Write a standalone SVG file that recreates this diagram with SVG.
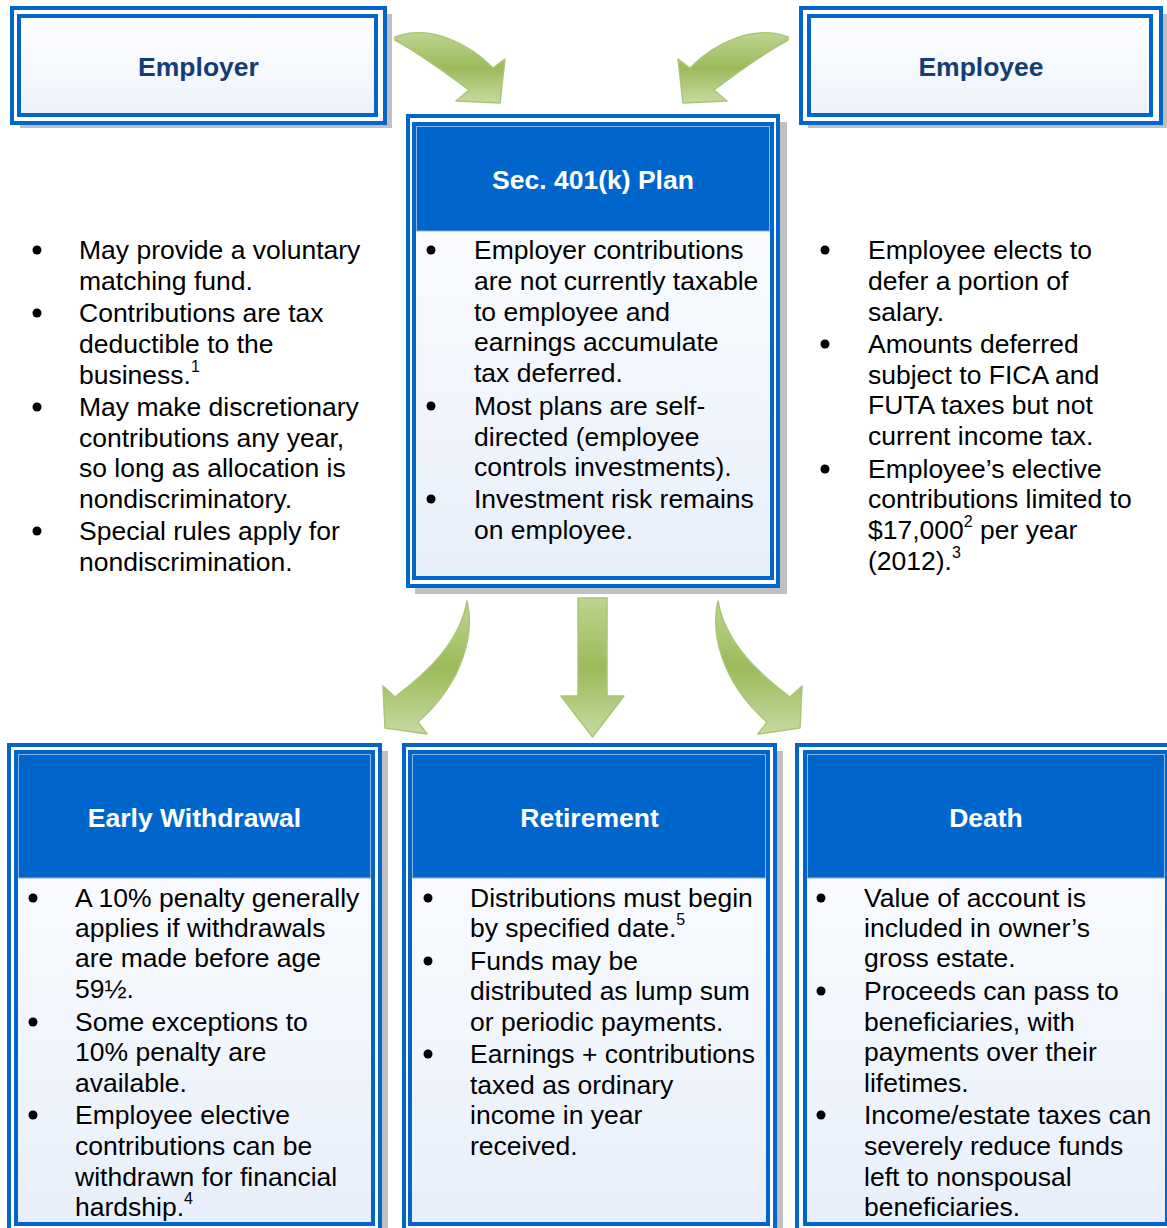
<svg xmlns="http://www.w3.org/2000/svg" width="1167" height="1228" viewBox="0 0 1167 1228">
<defs>
<linearGradient id="boxg" x1="0" y1="0" x2="0" y2="1"><stop offset="0" stop-color="#FFFFFF"/><stop offset="1" stop-color="#EDF2FB"/></linearGradient>
<linearGradient id="bodyg" x1="0" y1="0" x2="0" y2="1"><stop offset="0" stop-color="#FFFFFF"/><stop offset="1" stop-color="#E8EFFA"/></linearGradient>
<linearGradient id="ag" x1="0" y1="0" x2="0" y2="1"><stop offset="0" stop-color="#BCD492"/><stop offset="0.5" stop-color="#9BBB59"/><stop offset="1" stop-color="#C6DAA2"/></linearGradient>
<style>
.sh{fill:#BFBFBF}
.ob{fill:#FFFFFF;stroke:#0066CC;stroke-width:4}
.ib{fill:url(#boxg);stroke:#0066CC;stroke-width:4}
.ibb{fill:url(#bodyg);stroke:#0066CC;stroke-width:4}
.hdr{fill:#0066CC;stroke:#8DB4E2;stroke-width:1}
.ttl{font-family:"Liberation Sans",Arial,sans-serif;font-size:26.5px;font-weight:bold;text-anchor:middle}
.dk{fill:#123E74}
.wh{fill:#FFFFFF}
.t{font-family:"Liberation Sans",Arial,sans-serif;font-size:26.5px;fill:#000000}
.sup{font-size:16px}
.bl{fill:#000000}
.arr{fill:url(#ag);stroke:#A9C676;stroke-width:1.5;stroke-linejoin:round}
</style>
</defs>

<g id="connectors">
<path id="arrow-employer" class="arr" d="M395,37 C430,24 470,44 493,68 L505,59 L500,103 L456,101 L469,90 C453,78 422,55 395,40 Z"/>
<path id="arrow-employee" class="arr" transform="translate(1183,0) scale(-1,1)" d="M395,37 C430,24 470,44 493,68 L505,59 L500,103 L456,101 L469,90 C453,78 422,55 395,40 Z"/>
<path id="arrow-early" class="arr" d="M467,601 C474,630 466,680 418,722 L427,734 L385,728 L383,686 L395,697 C428,672 460,642 467,601 Z"/>
<path id="arrow-death" class="arr" transform="translate(1185,0) scale(-1,1)" d="M467,601 C474,630 466,680 418,722 L427,734 L385,728 L383,686 L395,697 C428,672 460,642 467,601 Z"/>
<polygon id="arrow-retirement" class="arr" points="578,598 607,598 607,696 624,696 592.5,737 561,696 578,696"/>
</g>

<g id="employer">
<rect class="sh" x="20" y="14" width="372" height="114"/>
<rect class="ob" x="12" y="8" width="373" height="115"/>
<rect class="ib" x="19" y="16" width="357" height="99"/>
<text class="ttl dk" x="198.5" y="75.5">Employer</text>
</g>

<g id="employee">
<rect class="sh" x="808" y="14" width="372" height="114"/>
<rect class="ob" x="801" y="8" width="360" height="115"/>
<rect class="ib" x="809" y="16" width="342" height="99"/>
<text class="ttl dk" x="981" y="75.5">Employee</text>
</g>

<g id="employer-notes">
<circle class="bl" cx="37" cy="250" r="4.5"/>
<circle class="bl" cx="37" cy="313" r="4.5"/>
<circle class="bl" cx="37" cy="407" r="4.5"/>
<circle class="bl" cx="37" cy="531" r="4.5"/>
<text class="t" x="79" y="258.5">May provide a voluntary</text>
<text class="t" x="79" y="289.5">matching fund.</text>
<text class="t" x="79" y="321.5">Contributions are tax</text>
<text class="t" x="79" y="352.5">deductible to the</text>
<text class="t" x="79" y="383.5">business.<tspan class="sup" dy="-12">1</tspan></text>
<text class="t" x="79" y="415.5">May make discretionary</text>
<text class="t" x="79" y="446.5">contributions any year,</text>
<text class="t" x="79" y="476.5">so long as allocation is</text>
<text class="t" x="79" y="507.5">nondiscriminatory.</text>
<text class="t" x="79" y="539.5">Special rules apply for</text>
<text class="t" x="79" y="570.5">nondiscrimination.</text>
</g>

<g id="plan">
<rect class="sh" x="415" y="122" width="372" height="472"/>
<rect class="ob" x="408" y="116" width="370" height="470"/>
<rect class="ibb" x="414" y="124" width="358" height="454"/>
<rect class="hdr" x="416.5" y="126.5" width="353" height="104.5"/>
<text class="ttl wh" x="593" y="188.5">Sec. 401(k) Plan</text>
<circle class="bl" cx="431" cy="250" r="4.5"/>
<circle class="bl" cx="431" cy="406" r="4.5"/>
<circle class="bl" cx="431" cy="499" r="4.5"/>
<text class="t" x="474" y="258.5">Employer contributions</text>
<text class="t" x="474" y="289.5">are not currently taxable</text>
<text class="t" x="474" y="320.5">to employee and</text>
<text class="t" x="474" y="350.5">earnings accumulate</text>
<text class="t" x="474" y="381.5">tax deferred.</text>
<text class="t" x="474" y="414.5">Most plans are self-</text>
<text class="t" x="474" y="445.5">directed (employee</text>
<text class="t" x="474" y="475.5">controls investments).</text>
<text class="t" x="474" y="507.5">Investment risk remains</text>
<text class="t" x="474" y="538.5">on employee.</text>
</g>

<g id="employee-notes">
<circle class="bl" cx="825" cy="250" r="4.5"/>
<circle class="bl" cx="825" cy="344" r="4.5"/>
<circle class="bl" cx="825" cy="469" r="4.5"/>
<text class="t" x="868" y="258.5">Employee elects to</text>
<text class="t" x="868" y="289.5">defer a portion of</text>
<text class="t" x="868" y="320.5">salary.</text>
<text class="t" x="868" y="352.5">Amounts deferred</text>
<text class="t" x="868" y="383.5">subject to FICA and</text>
<text class="t" x="868" y="413.5">FUTA taxes but not</text>
<text class="t" x="868" y="444.5">current income tax.</text>
<text class="t" x="868" y="477.5">Employee’s elective</text>
<text class="t" x="868" y="507.5">contributions limited to</text>
<text class="t" x="868" y="538.5">$17,000<tspan class="sup" dy="-12">2</tspan><tspan dy="12"> per year</tspan></text>
<text class="t" x="868" y="569.5">(2012).<tspan class="sup" dy="-12">3</tspan></text>
</g>

<g id="early-withdrawal">
<rect class="sh" x="16" y="751" width="372" height="500"/>
<rect class="ob" x="9" y="745" width="371" height="500"/>
<rect class="ibb" x="16" y="752" width="357" height="472"/>
<rect class="hdr" x="18.5" y="754.5" width="352" height="123.5"/>
<text class="ttl wh" x="194.5" y="826.5">Early Withdrawal</text>
<circle class="bl" cx="33" cy="898" r="4.5"/>
<circle class="bl" cx="33" cy="1022" r="4.5"/>
<circle class="bl" cx="33" cy="1115" r="4.5"/>
<text class="t" x="75" y="906.5">A 10% penalty generally</text>
<text class="t" x="75" y="936.5">applies if withdrawals</text>
<text class="t" x="75" y="966.5">are made before age</text>
<text class="t" x="75" y="997.5">59½.</text>
<text class="t" x="75" y="1030.5">Some exceptions to</text>
<text class="t" x="75" y="1060.5">10% penalty are</text>
<text class="t" x="75" y="1091.5">available.</text>
<text class="t" x="75" y="1123.5">Employee elective</text>
<text class="t" x="75" y="1154.5">contributions can be</text>
<text class="t" x="75" y="1185.5">withdrawn for financial</text>
<text class="t" x="75" y="1215.5">hardship.<tspan class="sup" dy="-12">4</tspan></text>
</g>

<g id="retirement">
<rect class="sh" x="410" y="751" width="373" height="500"/>
<rect class="ob" x="404" y="745" width="371" height="500"/>
<rect class="ibb" x="410" y="752" width="358" height="472"/>
<rect class="hdr" x="412.5" y="754.5" width="353" height="123.5"/>
<text class="ttl wh" x="589.5" y="826.5">Retirement</text>
<circle class="bl" cx="428" cy="898" r="4.5"/>
<circle class="bl" cx="428" cy="961" r="4.5"/>
<circle class="bl" cx="428" cy="1054" r="4.5"/>
<text class="t" x="470" y="906.5">Distributions must begin</text>
<text class="t" x="470" y="936.5">by specified date.<tspan class="sup" dy="-12">5</tspan></text>
<text class="t" x="470" y="969.5">Funds may be</text>
<text class="t" x="470" y="999.5">distributed as lump sum</text>
<text class="t" x="470" y="1030.5">or periodic payments.</text>
<text class="t" x="470" y="1062.5">Earnings + contributions</text>
<text class="t" x="470" y="1093.5">taxed as ordinary</text>
<text class="t" x="470" y="1123.5">income in year</text>
<text class="t" x="470" y="1154.5">received.</text>
</g>

<g id="death">
<rect class="sh" x="803" y="751" width="380" height="500"/>
<rect class="ob" x="797" y="745" width="378" height="500"/>
<rect class="ibb" x="805" y="752" width="362" height="472"/>
<rect class="hdr" x="807.5" y="754.5" width="357" height="123.5"/>
<text class="ttl wh" x="986" y="826.5">Death</text>
<circle class="bl" cx="821" cy="898" r="4.5"/>
<circle class="bl" cx="821" cy="991" r="4.5"/>
<circle class="bl" cx="821" cy="1115" r="4.5"/>
<text class="t" x="864" y="906.5">Value of account is</text>
<text class="t" x="864" y="936.5">included in owner’s</text>
<text class="t" x="864" y="966.5">gross estate.</text>
<text class="t" x="864" y="999.5">Proceeds can pass to</text>
<text class="t" x="864" y="1030.5">beneficiaries, with</text>
<text class="t" x="864" y="1060.5">payments over their</text>
<text class="t" x="864" y="1091.5">lifetimes.</text>
<text class="t" x="864" y="1123.5">Income/estate taxes can</text>
<text class="t" x="864" y="1154.5">severely reduce funds</text>
<text class="t" x="864" y="1185.5">left to nonspousal</text>
<text class="t" x="864" y="1215.5">beneficiaries.</text>
</g>
</svg>
